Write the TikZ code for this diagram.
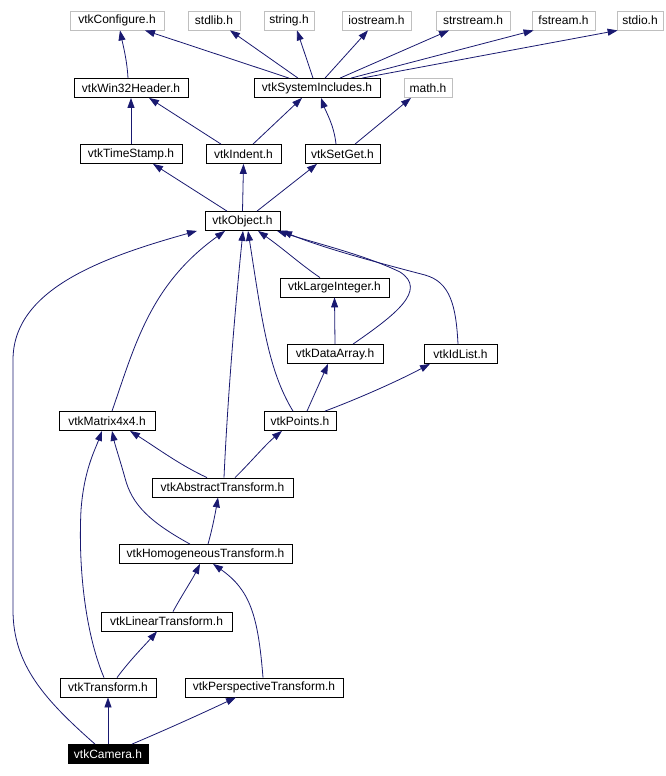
\documentclass[tikz,border=0pt]{standalone}
\usepackage{fontspec}
\setmainfont{Liberation Sans}
\usetikzlibrary{arrows.meta}
\definecolor{edgeblue}{HTML}{191970}
\definecolor{lightframe}{HTML}{BFBFBF}
\tikzset{
  hdr/.style={draw=black, line width=0.8pt, fill=white, rectangle, inner sep=0pt,
    font=\fontsize{12}{14}\selectfont, text=black, minimum height=19pt},
  sysh/.style={hdr, draw=lightframe},
  mainh/.style={hdr, fill=black, text=white},
  e/.style={draw=edgeblue, line width=0.8pt, -{Triangle[length=10pt,width=7pt]}, fill=none},
}
\begin{document}
\begin{tikzpicture}[x=1pt,y=-1pt]
\useasboundingbox (0,0) rectangle (666,776);
% row 1
\node[sysh, minimum width=94pt] (conf) at (117,20.5) {vtkConfigure.h};
\node[sysh, minimum width=52pt] (stdlib) at (214,20.5) {stdlib.h};
\node[sysh, minimum width=50pt] (string) at (289,20.5) {string.h};
\node[sysh, minimum width=69pt] (iostream) at (376.5,20.5) {iostream.h};
\node[sysh, minimum width=74pt] (strstream) at (473,20.5) {strstream.h};
\node[sysh, minimum width=63pt] (fstream) at (563.5,20.5) {fstream.h};
\node[sysh, minimum width=46pt] (stdio) at (640,20.5) {stdio.h};
% row 2
\node[hdr, minimum width=114pt] (win32) at (131,88) {vtkWin32Header.h};
\node[hdr, minimum width=126pt] (sysinc) at (317,88) {vtkSystemIncludes.h};
\node[sysh, minimum width=48pt] (math) at (428,88) {math.h};
% row 3
\node[hdr, minimum width=102pt] (tstamp) at (131,154) {vtkTimeStamp.h};
\node[hdr, minimum width=75pt] (indent) at (243.5,154) {vtkIndent.h};
\node[hdr, minimum width=75pt] (setget) at (342.5,154) {vtkSetGet.h};
% object
\node[hdr, minimum width=75pt] (obj) at (242.5,221) {vtkObject.h};
\node[hdr, minimum width=109pt] (largeint) at (334.5,287.5) {vtkLargeInteger.h};
\node[hdr, minimum width=96pt] (darray) at (335,354) {vtkDataArray.h};
\node[hdr, minimum width=73pt] (idlist) at (460.5,354) {vtkIdList.h};
\node[hdr, minimum width=96pt] (matrix) at (107,421) {vtkMatrix4x4.h};
\node[hdr, minimum width=72pt] (points) at (300,421) {vtkPoints.h};
\node[hdr, minimum width=141pt] (abstract) at (222.5,487.5) {vtkAbstractTransform.h};
\node[hdr, minimum width=173pt] (homog) at (205.5,554) {vtkHomogeneousTransform.h};
\node[hdr, minimum width=131pt] (linear) at (166.5,621.5) {vtkLinearTransform.h};
\node[hdr, minimum width=96pt] (transform) at (108,687.5) {vtkTransform.h};
\node[hdr, minimum width=158pt] (persp) at (264,687.5) {vtkPerspectiveTransform.h};
\node[mainh, minimum width=80pt] (camera) at (108,754) {vtkCamera.h};

% edges
\draw[e] ([xshift=-3pt]win32.north) .. controls (127,60) and (123,45) .. ([xshift=3pt]conf.south);
\draw[e] ([xshift=-28pt]sysinc.north) -- ([xshift=28pt]conf.south);
\draw[e] ([xshift=-19pt]sysinc.north) -- ([xshift=16pt]stdlib.south);
\draw[e] ([xshift=-4pt]sysinc.north) -- ([xshift=8pt]string.south);
\draw[e] ([xshift=8pt]sysinc.north) -- ([xshift=-8.5pt]iostream.south);
\draw[e] ([xshift=23pt]sysinc.north) -- ([xshift=-24pt]strstream.south);
\draw[e] ([xshift=34pt]sysinc.north) -- ([xshift=2pt]fstream.south west);
\draw[e] ([xshift=45pt]sysinc.north) -- ([xshift=1pt]stdio.south west);
\draw[e] (tstamp.north) -- (win32.south);
\draw[e] ([xshift=-22.5pt]indent.north) -- ([xshift=18pt]win32.south);
\draw[e] ([xshift=9.5pt]indent.north) -- ([xshift=-15pt]sysinc.south);
\draw[e] ([xshift=-6.5pt]setget.north) .. controls (334,125) and (326,112) .. ([xshift=4pt]sysinc.south);
\draw[e] ([xshift=12.5pt]setget.north) -- ([xshift=-17pt]math.south);
\draw[e] ([xshift=-15.5pt]obj.north) -- ([xshift=22pt]tstamp.south);
\draw[e] (obj.north) -- (indent.south);
\draw[e] ([xshift=14.5pt]obj.north) -- ([xshift=-25.5pt]setget.south);

\draw[e] ([xshift=-13pt]camera.north) .. controls (45,700) and (13,665) .. (13,610)
  -- (13,360) .. controls (13,290) and (100,258) .. ([xshift=-45.5pt]obj.south);
\draw[e] ([xshift=5pt]matrix.north) .. controls (135,345) and (150,285) .. ([xshift=-17.5pt]obj.south);
\draw[e] ([xshift=1.5pt]abstract.north) .. controls (228,390) and (236,300) .. ([xshift=0.5pt]obj.south);
\draw[e] ([xshift=-7pt]points.north) .. controls (268,370) and (262,320) .. ([xshift=5.5pt]obj.south);
\draw[e] ([xshift=-14.5pt]largeint.north) .. controls (300,264) and (285,250) .. ([xshift=15.5pt]obj.south);
\draw[e] ([xshift=18pt]darray.north) .. controls (395,315) and (428,290) .. (400,272)
  .. controls (365,255) and (315,243) .. ([xshift=34.5pt]obj.south);
\draw[e] ([xshift=-2.5pt]idlist.north) .. controls (456,305) and (450,282) .. (425,275)
  .. controls (375,262) and (320,247) .. ([xshift=39.5pt]obj.south);
\draw[e] (darray.north) -- (largeint.south);
\draw[e] ([xshift=7pt]points.north) -- ([xshift=-7pt]darray.south);
\draw[e] ([xshift=25pt]points.north) .. controls (360,398) and (400,380) .. ([xshift=-30.5pt]idlist.south);
\draw[e] ([xshift=-15.5pt]abstract.north) .. controls (180,465) and (160,450) .. ([xshift=23pt]matrix.south);
\draw[e] ([xshift=12.5pt]abstract.north) .. controls (250,463) and (265,445) .. ([xshift=-18pt]points.south);
\draw[e] ([xshift=2.5pt]homog.north) .. controls (212,530) and (215,515) .. ([xshift=-4.5pt]abstract.south);
\draw[e] ([xshift=-15.5pt]homog.north) .. controls (150,522) and (132,505) .. (125,478)
  .. controls (120,460) and (115,445) .. ([xshift=5pt]matrix.south);
\draw[e] ([xshift=6.5pt]linear.north) .. controls (182,595) and (192,580) .. ([xshift=-5.5pt]homog.south);
\draw[e] ([xshift=-1pt]persp.north) .. controls (258,615) and (250,590) .. ([xshift=7.5pt]homog.south);
\draw[e] ([xshift=9pt]transform.north) .. controls (130,660) and (145,645) .. ([xshift=-9.5pt]linear.south);
\draw[e] ([xshift=-4pt]transform.north) .. controls (86,635) and (78,570) .. (81,510)
  .. controls (84,470) and (95,450) .. ([xshift=-5pt]matrix.south);
\draw[e] (camera.north) -- (transform.south);
\draw[e] ([xshift=24pt]camera.north) .. controls (170,728) and (205,712) .. ([xshift=-28pt]persp.south);
\end{tikzpicture}
\end{document}
